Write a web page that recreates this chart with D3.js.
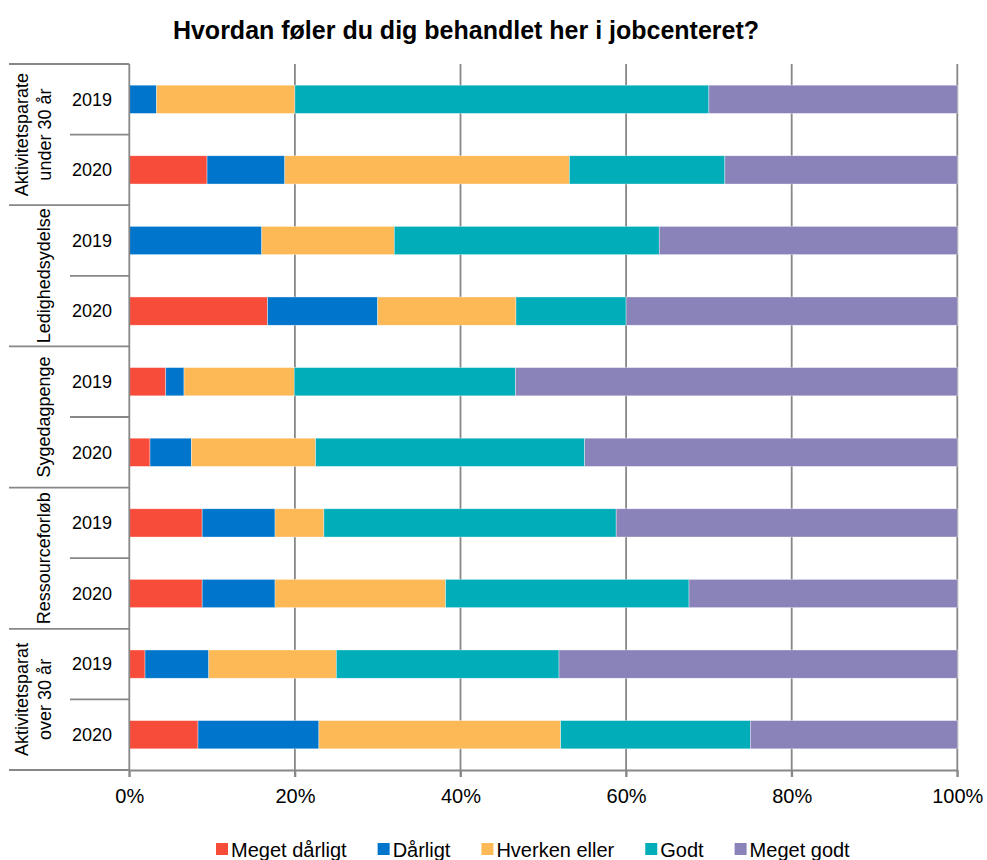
<!DOCTYPE html>
<html>
<head>
<meta charset="utf-8">
<script src="https://cdn.jsdelivr.net/npm/d3@7"></script>
<style>
  body { margin: 0; background: #fff; }
  svg { font-family: "Liberation Sans", Arial, sans-serif; }
</style>
</head>
<body>
<script>
// data (percent)
var groups = [["Aktivitetsparate", "under 30 år"], ["Ledighedsydelse"], ["Sygedagpenge"], ["Ressourceforløb"], ["Aktivitetsparat", "over 30 år"]];
var years = ["2019", "2020"];
var seriesNames = ["Meget dårligt", "Dårligt", "Hverken eller", "Godt", "Meget godt"];
var colors = ["#f84c3b", "#0075cc", "#feb957", "#00adb8", "#8983ba"];

var megetDaarligt = [0, 9.4, 0, 16.7, 4.4, 2.5, 8.8, 8.8, 1.9, 8.3];
var daarligt = [3.3, 9.4, 16.0, 13.3, 2.2, 5.0, 8.8, 8.8, 7.7, 14.6];
var hverken = [16.7, 34.4, 16.0, 16.7, 13.3, 15.0, 5.9, 20.6, 15.4, 29.2];
var godt = [50.0, 18.8, 32.0, 13.3, 26.7, 32.5, 35.3, 29.4, 26.9, 22.9];
var megetGodt = [30.0, 28.1, 36.0, 40.0, 53.3, 45.0, 41.2, 32.4, 48.1, 25.0];

var tickValues = [0, 0.2, 0.4, 0.6, 0.8, 1];

var width = 987, height = 860;
var plotLeft = 129.3, plotRight = 957.3, plotTop = 64, plotBottom = 770;

// one row per group/year
var rows = [];
groups.forEach(function(g, gi) {
    years.forEach(function(yr, yi) {
        var i = gi * years.length + yi;
        rows.push({
            id: gi + "-" + yr, group: gi, year: yr,
            "Meget dårligt": megetDaarligt[i], "Dårligt": daarligt[i],
            "Hverken eller": hverken[i], "Godt": godt[i], "Meget godt": megetGodt[i]
        });
    });
});

var svg = d3.select("body").append("svg")
    .attr("width", width)
    .attr("height", height);

var x = d3.scaleLinear().domain([0, 1]).range([plotLeft, plotRight]);
var y = d3.scaleBand().domain(rows.map(function(d) { return d.id; }))
    .range([plotTop, plotBottom]).paddingInner(0.6).paddingOuter(0.3);

var stack = d3.stack().keys(seriesNames).offset(d3.stackOffsetExpand);
var stacked = stack(rows);

//Title
svg.append("text")
    .attr("x", 466).attr("y", 39)
    .attr("text-anchor", "middle")
    .style("font-size", "25px").style("font-weight", "bold")
    .text("Hvordan føler du dig behandlet her i jobcenteret?");

//Gridlines
svg.append("g").selectAll("line")
    .data(tickValues.slice(1))
    .enter().append("line")
    .attr("x1", function(d) { return x(d); }).attr("x2", function(d) { return x(d); })
    .attr("y1", plotTop).attr("y2", plotBottom + 7)
    .style("stroke", "#878787").style("stroke-width", "1.8px");

//Bars
svg.append("g").selectAll("g")
    .data(stacked)
    .enter().append("g")
    .style("fill", function(d, i) { return colors[i]; })
    .selectAll("rect")
    .data(function(d) { return d; })
    .enter().append("rect")
    .attr("x", function(d) { return x(d[0]); })
    .attr("width", function(d) { return x(d[1]) - x(d[0]); })
    .attr("y", function(d) { return y(d.data.id); })
    .attr("height", y.bandwidth())
    .style("stroke", "#fff").style("stroke-width", "0.6px").style("stroke-opacity", 0.6);

//Bottom axis
var xAxis = svg.append("g")
    .attr("transform", "translate(0," + plotBottom + ")")
    .call(d3.axisBottom(x).tickValues(tickValues).tickFormat(d3.format(".0%"))
        .tickSizeInner(7).tickSizeOuter(0).tickPadding(11.5));
xAxis.select(".domain").style("stroke", "#878787").style("stroke-width", "1.8px");
xAxis.selectAll(".tick line").style("stroke", "#878787").style("stroke-width", "1.8px");
xAxis.selectAll(".tick text").style("font-size", "20px").style("fill", "#000")
    .style("font-family", "'Liberation Sans', Arial, sans-serif");

//Left axis line
svg.append("line")
    .attr("x1", plotLeft).attr("x2", plotLeft).attr("y1", plotTop).attr("y2", plotBottom + 7)
    .style("stroke", "#878787").style("stroke-width", "1.8px");

//Separator lines of the category table
var groupStep = (plotBottom - plotTop) / groups.length;
var gBounds = d3.range(groups.length + 1).map(function(i) { return plotTop + i * groupStep; });
svg.append("g").selectAll("line")
    .data(gBounds)
    .enter().append("line")
    .attr("x1", 9).attr("x2", plotLeft)
    .attr("y1", function(d) { return d; }).attr("y2", function(d) { return d; })
    .style("stroke", "#878787").style("stroke-width", "1.8px");
svg.append("g").selectAll("line")
    .data(groups)
    .enter().append("line")
    .attr("x1", 70).attr("x2", plotLeft)
    .attr("y1", function(d, i) { return plotTop + i * groupStep + groupStep / 2; })
    .attr("y2", function(d, i) { return plotTop + i * groupStep + groupStep / 2; })
    .style("stroke", "#878787").style("stroke-width", "1.8px");

//Year labels
svg.append("g").selectAll("text")
    .data(rows)
    .enter().append("text")
    .attr("x", 92)
    .attr("y", function(d) { return y(d.id) + y.bandwidth() / 2; })
    .attr("dy", "0.35em")
    .attr("text-anchor", "middle")
    .style("font-size", "18px")
    .text(function(d) { return d.year; });

//Group labels, rotated
var gLabels = svg.append("g").selectAll("text")
    .data(groups)
    .enter().append("text")
    .attr("transform", function(d, i) {
        var cy = plotTop + i * groupStep + groupStep / 2;
        return "translate(0," + cy + ") rotate(-90)";
    })
    .attr("text-anchor", "middle")
    .style("font-size", "18px");
gLabels.selectAll("tspan")
    .data(function(d) { return d.length > 1 ? d.map(function(t, k) { return { t: t, bx: k === 0 ? 28 : 51 }; }) : [{ t: d[0], bx: 50 }]; })
    .enter().append("tspan")
    .attr("x", 0)
    .attr("y", function(d) { return d.bx; })
    .text(function(d) { return d.t; });

//Legend
var legend = svg.append("g");
var items = legend.selectAll("g")
    .data(seriesNames)
    .enter().append("g");
items.append("rect")
    .attr("width", 12).attr("height", 12)
    .attr("y", 843)
    .style("fill", function(d, i) { return colors[i]; });
items.append("text")
    .attr("x", 15).attr("y", 857)
    .style("font-size", "20px")
    .text(function(d) { return d; });
var offs = 216;
items.each(function() {
    var w = this.querySelector("text").getComputedTextLength() + 15;
    d3.select(this).attr("transform", "translate(" + offs + ",0)");
    offs += w + 31;
});
</script>
</body>
</html>
